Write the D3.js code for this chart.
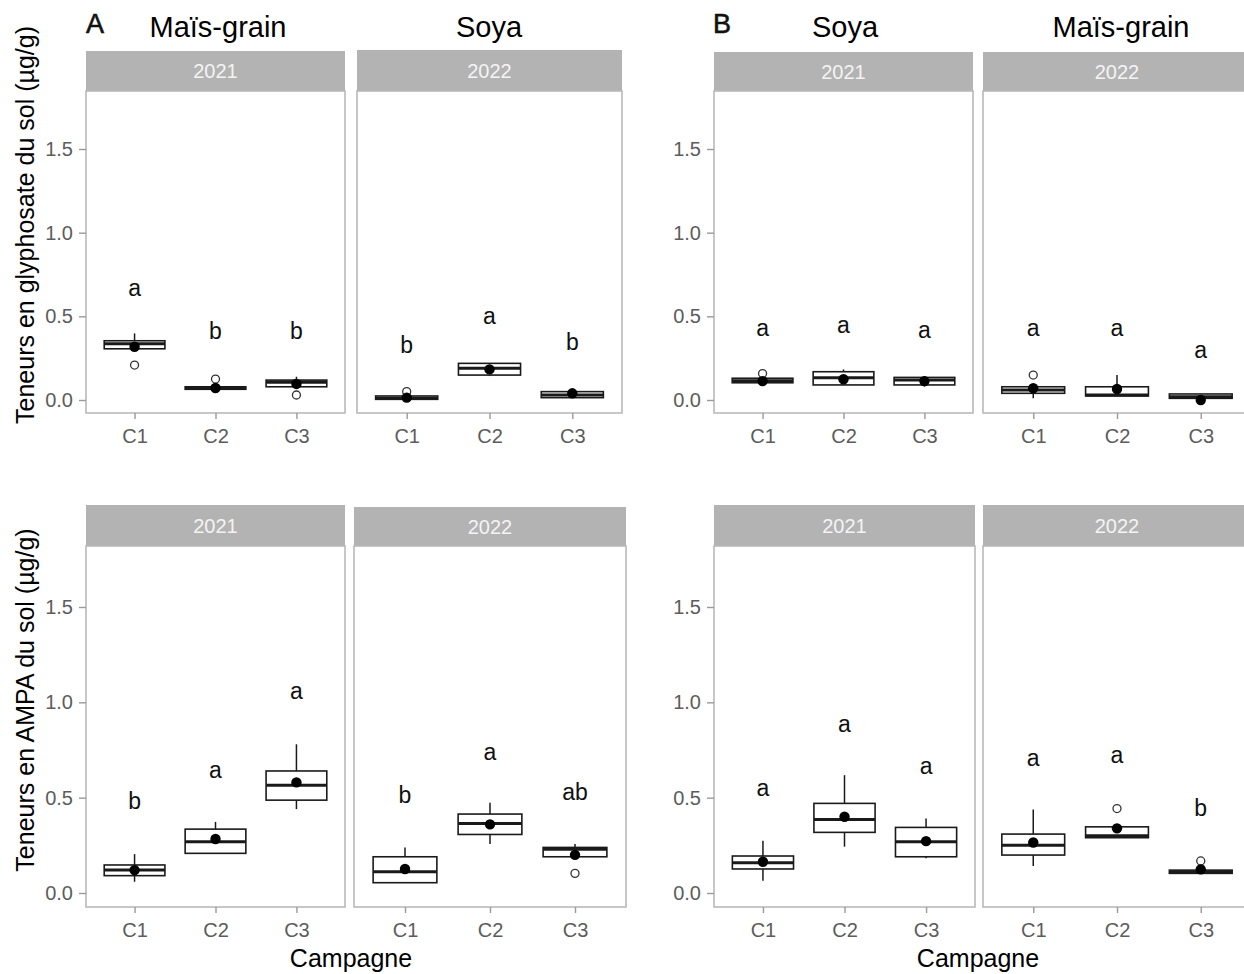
<!DOCTYPE html>
<html><head><meta charset="utf-8">
<script src="https://cdn.jsdelivr.net/npm/d3@7"></script>
<style>
html,body{margin:0;padding:0;background:#fff;overflow:hidden}
text{font-family:"Liberation Sans",Arial,sans-serif}
</style></head>
<body>
<svg id="chart" width="1244" height="974"></svg>
<script>
// ---------- DATA ----------
const categories = ["C1", "C2", "C3"];
const stripYears = ["2021", "2022"];
const yTicks = [0, 0.5, 1.0, 1.5];

// five-number summaries per campaign: [lower whisker, Q1, median, Q3, upper whisker]
// Glyphosate, A: Maïs-grain 2021
const glyA2021 = [[0.306,0.306,0.336,0.354,0.398],[0.064,0.064,0.070,0.079,0.085],[0.079,0.079,0.106,0.119,0.139]];
const glyA2021Mean = [0.318, 0.072, 0.096];
const glyA2021Out = [[0.209],[0.125],[0.030]];
const glyA2021Letters = ["a","b","b"];
const glyA2021LetterY = [0.669, 0.412, 0.412];
// Glyphosate, A: Soya 2022
const glyA2022 = [[0.004,0.004,0.010,0.024,0.030],[0.143,0.149,0.189,0.219,0.219],[0.014,0.014,0.030,0.050,0.064]];
const glyA2022Mean = [0.014, 0.183, 0.040];
const glyA2022Out = [[0.050],[],[]];
const glyA2022Letters = ["b","a","b"];
const glyA2022LetterY = [0.328, 0.501, 0.346];
// Glyphosate, B: Soya 2021
const glyB2021 = [[0.103,0.103,0.115,0.130,0.130],[0.090,0.090,0.133,0.169,0.183],[0.080,0.090,0.119,0.135,0.143]];
const glyB2021Mean = [0.113, 0.124, 0.113];
const glyB2021Out = [[0.158],[],[]];
const glyB2021Letters = ["a","a","a"];
const glyB2021LetterY = [0.430, 0.448, 0.418];
// Glyphosate, B: Maïs-grain 2022
const glyB2022 = [[0.010,0.040,0.060,0.079,0.079],[0.024,0.024,0.030,0.079,0.149],[0.010,0.010,0.020,0.036,0.036]];
const glyB2022Mean = [0.070, 0.066, 0.000];
const glyB2022Out = [[0.149],[],[]];
const glyB2022Letters = ["a","a","a"];
const glyB2022LetterY = [0.430, 0.430, 0.299];
// AMPA, A: Maïs-grain 2021
const ampaA2021 = [[0.059,0.091,0.120,0.147,0.204],[0.208,0.208,0.269,0.335,0.373],[0.440,0.487,0.565,0.640,0.780]];
const ampaA2021Mean = [0.120, 0.283, 0.580];
const ampaA2021Out = [[],[],[]];
const ampaA2021Letters = ["b","a","a"];
const ampaA2021LetterY = [0.482, 0.649, 1.063];
// AMPA, A: Soya 2022
const ampaA2022 = [[0.054,0.054,0.112,0.190,0.239],[0.257,0.307,0.365,0.414,0.473],[0.190,0.190,0.229,0.239,0.257]];
const ampaA2022Mean = [0.126, 0.360, 0.200];
const ampaA2022Out = [[],[],[0.103]];
const ampaA2022Letters = ["b","a","ab"];
const ampaA2022LetterY = [0.513, 0.743, 0.529];
// AMPA, B: Soya 2021
const ampaB2021 = [[0.064,0.126,0.159,0.194,0.274],[0.243,0.318,0.386,0.470,0.618],[0.182,0.190,0.269,0.344,0.391]];
const ampaB2021Mean = [0.164, 0.400, 0.272];
const ampaB2021Out = [[],[],[]];
const ampaB2021Letters = ["a","a","a"];
const ampaB2021LetterY = [0.550, 0.890, 0.665];
// AMPA, B: Maïs-grain 2022
const ampaB2022 = [[0.141,0.199,0.251,0.309,0.438],[0.290,0.290,0.300,0.347,0.347],[0.103,0.103,0.110,0.120,0.120]];
const ampaB2022Mean = [0.265, 0.339, 0.124];
const ampaB2022Out = [[],[0.443],[0.168]];
const ampaB2022Letters = ["a","a","b"];
const ampaB2022LetterY = [0.712, 0.723, 0.445];

const cropTitles = [["Maïs-grain","Soya"],["Soya","Maïs-grain"]];
const groupLabels = ["A","B"];
const yTitles = ["Teneurs en glyphosate du sol (µg/g)", "Teneurs en AMPA du sol (µg/g)"];
const xTitle = "Campagne";

// ---------- LAYOUT ----------
const rows = [
  {y0: 400, y15: 149, top: 91, bottom: 413},
  {y0: 893, y15: 607, top: 546, bottom: 907}
];
const panels = [
  {row:0, x0:86,  x1:345,  stripTop:51, year:0, box:glyA2021, mean:glyA2021Mean, out:glyA2021Out, lt:glyA2021Letters, ly:glyA2021LetterY, yAxis:true},
  {row:0, x0:357, x1:622,  stripTop:50, year:1, box:glyA2022, mean:glyA2022Mean, out:glyA2022Out, lt:glyA2022Letters, ly:glyA2022LetterY},
  {row:0, x0:714, x1:973,  stripTop:52, year:0, box:glyB2021, mean:glyB2021Mean, out:glyB2021Out, lt:glyB2021Letters, ly:glyB2021LetterY, yAxis:true},
  {row:0, x0:983, x1:1251, stripTop:52, year:1, box:glyB2022, mean:glyB2022Mean, out:glyB2022Out, lt:glyB2022Letters, ly:glyB2022LetterY},
  {row:1, x0:86,  x1:345,  stripTop:505, year:0, box:ampaA2021, mean:ampaA2021Mean, out:ampaA2021Out, lt:ampaA2021Letters, ly:ampaA2021LetterY, yAxis:true},
  {row:1, x0:354, x1:626,  stripTop:507, year:1, box:ampaA2022, mean:ampaA2022Mean, out:ampaA2022Out, lt:ampaA2022Letters, ly:ampaA2022LetterY},
  {row:1, x0:714, x1:975,  stripTop:505, year:0, box:ampaB2021, mean:ampaB2021Mean, out:ampaB2021Out, lt:ampaB2021Letters, ly:ampaB2021LetterY, yAxis:true},
  {row:1, x0:983, x1:1251, stripTop:505, year:1, box:ampaB2022, mean:ampaB2022Mean, out:ampaB2022Out, lt:ampaB2022Letters, ly:ampaB2022LetterY}
];

const svg = d3.select("#chart");
const BORDER = "#b9b9b9";
const TICKCOL = "#9a9a9a";
const LABCOL = "#5c5c5c";
const INK = "#1a1a1a";

panels.forEach(p => {
  const r = rows[p.row];
  const y = d3.scaleLinear().domain([0, 1.5]).range([r.y0, r.y15]);
  const x = d3.scalePoint().domain(categories).range([p.x0, p.x1]).padding(0.6);
  const bw = x.step() * 0.75;
  const g = svg.append("g");

  // strip
  g.append("rect").attr("x", p.x0).attr("y", p.stripTop)
    .attr("width", p.x1 - p.x0).attr("height", r.top - p.stripTop)
    .attr("fill", "#b3b3b3");
  g.append("text").attr("x", (p.x0 + p.x1) / 2).attr("y", (p.stripTop + r.top) / 2)
    .attr("dy", "0.36em").attr("text-anchor", "middle")
    .attr("fill", "#f4f4f4").style("font-size", "20px").text(stripYears[p.year]);

  // panel
  g.append("rect").attr("x", p.x0).attr("y", r.top)
    .attr("width", p.x1 - p.x0).attr("height", r.bottom - r.top)
    .attr("fill", "#fff").attr("stroke", BORDER).attr("stroke-width", 1.6);

  // x axis
  const xa = g.append("g").attr("transform", `translate(0,${r.bottom})`)
    .call(d3.axisBottom(x).tickSize(6).tickPadding(10));
  xa.select(".domain").remove();
  xa.selectAll("line").attr("stroke", TICKCOL).attr("stroke-width", 1.4);
  xa.selectAll("text").attr("fill", LABCOL).style("font-size", "20px")
    .style("font-family", '"Liberation Sans",Arial,sans-serif');

  if (p.yAxis) {
    const ya = g.append("g").attr("transform", `translate(${p.x0},0)`)
      .call(d3.axisLeft(y).tickValues(yTicks).tickFormat(d3.format(".1f")).tickSize(7).tickPadding(6));
    ya.select(".domain").remove();
    ya.selectAll("line").attr("stroke", TICKCOL).attr("stroke-width", 1.4);
    ya.selectAll("text").attr("fill", LABCOL).style("font-size", "20px")
      .style("font-family", '"Liberation Sans",Arial,sans-serif');
  }

  categories.forEach((c, i) => {
    const [lo, q1, med, q3, hi] = p.box[i];
    const cx = x(c);
    // whiskers
    g.append("line").attr("x1", cx).attr("x2", cx).attr("y1", y(hi)).attr("y2", y(q3))
      .attr("stroke", INK).attr("stroke-width", 1.5);
    g.append("line").attr("x1", cx).attr("x2", cx).attr("y1", y(q1)).attr("y2", y(lo))
      .attr("stroke", INK).attr("stroke-width", 1.5);
    // box
    g.append("rect").attr("x", cx - bw / 2).attr("width", bw)
      .attr("y", y(q3)).attr("height", Math.max(0.5, y(q1) - y(q3)))
      .attr("fill", "#fff").attr("stroke", INK).attr("stroke-width", 1.6);
    // median
    g.append("line").attr("x1", cx - bw / 2).attr("x2", cx + bw / 2)
      .attr("y1", y(med)).attr("y2", y(med)).attr("stroke", INK).attr("stroke-width", 3);
    // outliers
    p.out[i].forEach(v => {
      g.append("circle").attr("cx", cx).attr("cy", y(v)).attr("r", 4)
        .attr("fill", "none").attr("stroke", "#333").attr("stroke-width", 1.3);
    });
    // mean
    g.append("circle").attr("cx", cx).attr("cy", y(p.mean[i])).attr("r", 5.2).attr("fill", "#000");
    // letters
    g.append("text").attr("x", cx).attr("y", y(p.ly[i])).attr("dy", "0.36em")
      .attr("text-anchor", "middle").attr("fill", "#111").style("font-size", "23px")
      .text(p.lt[i]);
  });
});

// Titles
const titleX = [[218, 489], [845, 1121]];
const groupX = [86, 713];
groupLabels.forEach((lab, gi) => {
  svg.append("text").attr("x", groupX[gi]).attr("y", 33).attr("fill", "#111")
    .attr("stroke", "#111").attr("stroke-width", 0.6)
    .style("font-size", "27px").text(lab);
  cropTitles[gi].forEach((t, j) => {
    svg.append("text").attr("x", titleX[gi][j]).attr("y", 37).attr("text-anchor", "middle")
      .attr("fill", "#000").style("font-size", "29px").text(t);
  });
});

// Y titles
const yTitleCenter = [225, 700];
yTitles.forEach((t, i) => {
  svg.append("text").attr("transform", `translate(34,${yTitleCenter[i]}) rotate(-90)`)
    .attr("text-anchor", "middle").attr("fill", "#000").style("font-size", "25px").text(t);
});
// X titles
[351, 978].forEach(cx => {
  svg.append("text").attr("x", cx).attr("y", 967).attr("text-anchor", "middle")
    .attr("fill", "#000").style("font-size", "25px").text(xTitle);
});
</script>
</body></html>
